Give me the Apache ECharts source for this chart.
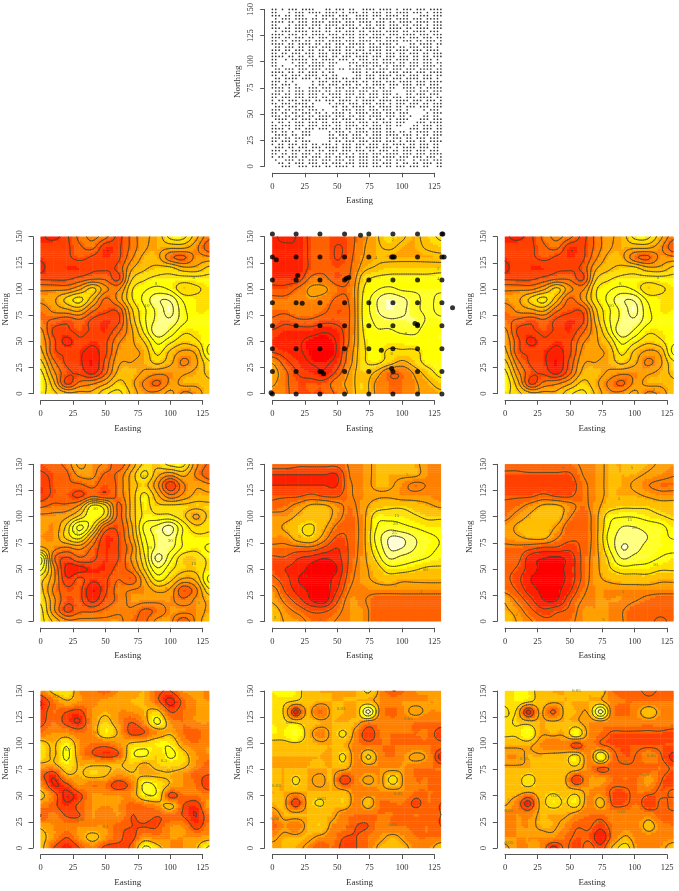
<!DOCTYPE html>
<html><head><meta charset="utf-8">
<style>html,body{margin:0;padding:0;background:#fff}#c{width:679px;height:891px}</style>
<script src="https://cdn.jsdelivr.net/npm/echarts@6/dist/echarts.min.js"></script>
</head><body><div id="c"></div>
<script>
// tick labels
const eastingTicks = [0,25,50,75,100,125];
const northingTicks = [0,25,50,75,100,125,150];
// raster axes: the easting / northing at which values were read
const eastA = [0,10,20,30,40,50,60,70,80,90,100,110,120,130];
const northA = [150,140,130,120,110,100,90,80,70,60,50,40,30,20,10,0];
const eastL = [0,9,18,27,37,46,55,65,74,83,93,102,111,120,130];
const northL = [150,140,130,120,109,98,87,76,65,54,43,32,21,10,0];
// colour bands, low to high
const heatColors = ["#FF0000","#FF2000","#FF4000","#FF6000","#FF8000","#FF9F00","#FFBF00","#FFDF00","#FFFF00","#FFFF2A","#FFFF80","#FFFFD5"];
// values, in colour-band units
const rasterA = [
[2,1.5,2.5,4,5,4,2.5,4,5.5,6,8,8,6,4],
[2,2.5,2.5,3.5,4,2,2.5,4,5.5,6,6,6,5,3],
[2,2.5,2.5,3,2.5,2,2.5,4.5,6,6,4,3.5,5,5],
[1.5,2.5,2,2,2.5,2.5,3,5.5,6.5,7,7,6,6,7],
[2.5,2.5,2.5,3,3.5,3.5,2.5,6.5,7.5,8,8,8,8,8],
[4.5,4.5,4.5,5.5,7,5,4.5,7.5,8.5,9,8.5,7,7.5,8],
[5,5.5,7,8,6,3.5,5,7.5,9,10.5,10.5,8.5,8,8],
[4,5,5.5,6,4,3,3,6.5,8.5,10,11,9,8,8],
[4,3.5,3,3.5,2.5,2,2.5,6,8.5,10,10.5,9,8.2,8.2],
[5,2.5,2.5,3,2.5,2,3.5,5.5,8,10.5,9.5,8,8,8.2],
[5.5,3,1.5,2.5,2,2.5,4.5,5.5,6.8,9,8,7,7.5,8.5],
[6,3,2.5,2,1.5,2.5,5,5.5,6,8,6.5,5.5,6,9],
[7,4,2.5,2,1,3,5.5,5.7,6,7,6,4.5,5.5,7.5],
[8,5,3,2.5,1.5,3.5,6,6.2,5.5,5,5,5.5,6,7],
[8.5,6,2.5,4,4.5,5.5,7,6,4.5,3.5,5,6,6,6.5],
[8,7,6,6,6,7.5,8,6.5,5,5,6,4.5,5,6.5]];
const rasterB = [
[1.5,1,1.5,3,3,3,3.2,4.8,6,7.5,6.5,6,7,8],
[1.5,1.5,1.5,3,3.5,2.5,3.2,5,6,6.5,6,6,6.5,7],
[1.5,1.5,1.5,3,3.5,2.5,3.4,5.2,6,6,6,6,6,6],
[1.5,1.5,1.5,3,3.5,3,3.6,5.8,6.5,7,7,7,7,7],
[2,2,2,4,4,3,3.8,7,8,8.2,8.2,8.2,8.2,8.5],
[3,3,4,5.5,5.5,4,4.2,7.6,9,9.5,9,9,9,9],
[4,4,4.5,5,4.5,3.5,4,7.9,10,11,10.5,9.5,9,9.5],
[4,4,4.5,4.5,4,3,3.8,8,10,11,10.5,9.5,9,9.5],
[3.5,3,3.5,3.5,3,3,3.8,7.9,9.5,10,10,10,9,9],
[2.5,2,2,2,1.5,2,3.9,7.7,9,9,9.5,9.5,8.5,9],
[2,1.5,1.5,0.8,0.5,1.5,4,7.5,8.2,8.2,8.2,8.5,8.5,9],
[2.5,2,1.5,0.8,0,1.5,4.5,7.4,8.2,7.5,7.5,7.5,8.2,8.2],
[5,3,2,1.2,1,2,4.8,7.4,8,7,6,7,8.2,8.2],
[6,4,2.5,2,1.5,3,5.5,7,6,4,4,5.5,7,8.2],
[5.5,4,3,3,3,4.5,5.7,7,5,4,4,5,6,7],
[4.5,4,3,3,3,4,5.5,7,5,4,4,5,5.5,6]];
const rasterC = rasterA;
const rasterD = [
[3,3.5,4,6,5,4.5,3,5,7,7,8,8,5,3.5],
[2.5,3,3.5,5,5,3.5,4,6,8,6,5,6,4.5,3],
[2,3,3.5,3.5,4,3,4,6,7,5,2,4.5,5.5,5],
[2,3,3,2.5,3.5,3,4,6,8,6,4,5,6,6],
[3.5,4,4,5,8,7,3.5,6,8,7,7,7,7,7],
[5,5,5.5,7,8.5,7,3.5,6,8,8,8,7,5.5,7],
[5.5,5,7,10,7.5,3.5,3,5.5,9,10,11,8.5,7,7.5],
[5,5,7,8,5,2,2.7,5.2,8.5,10,10.5,8.5,8,8],
[6,5,4.5,5,3.5,2,2.7,4.5,8,10,10,8.5,8,9],
[10,4,2.5,3.5,3,2,2.7,4.8,7.5,11,9,7,7,8],
[9,5,1.5,1.5,2,2,3.2,4.2,6.8,9.5,8,7,7,8],
[7,5,2,3,2,2.5,3.7,3,5.5,8,7,5.5,6,9],
[7,4.5,3,3,1,2.5,4.2,4.7,5,6,5.5,3,4.5,7.5],
[7.5,5,3,3,1.5,3,4,5,5,5,5,4,5,6],
[8,5,2.5,3.5,3.5,4,4.5,4.5,3.5,4,5,5,5,6],
[8,6.5,5,5,5,5,5,4,3.5,5,5,3,5,6.5]];
const rasterE = [
[4,4,3.5,3.5,3.5,3.5,4.6,5,6,6,6,6,5,4.5],
[2,2,2,2,2,2,4.5,5,6,6,6,6,5,4.5],
[2,2,2,2,2,2,4.2,5,6,6,5,4,4.5,4.5],
[3,3,3,3.5,3,3,4.2,5,5.5,5.5,5,5,5,4.5],
[3.5,4,5,6,6,5,4,5.2,6.5,7,7,6.5,6,5.5],
[5,5,6,6.5,6.5,5,3.8,5.2,8,8,8,7.5,7,7],
[5,6,7,7.5,6,4,3.5,5.2,8.5,9.5,9,8.5,8,8],
[5,5,6.5,7,5,3,3.5,5.2,9,11,11,10,9,8.5],
[4,4,4,4,3,2,3.5,5.2,8.5,11,11,10,9,8.5],
[3,3,2,1.5,1,1.5,3.5,5.2,7.5,10,9.5,9,8.5,8],
[3,2,1.5,0.7,0.7,1,3.7,5.2,6.5,8,8,7.5,7,7],
[3.5,2.5,1,0.5,0.7,1.5,4,5.2,6,6.5,6,6,6,6],
[5,3,1.5,0.8,0.5,2,4.5,4.8,5,5,5,5,5,5],
[5.5,4,2.5,1,0.5,3,5,4.6,3.5,3.5,3.5,3.5,3.5,3.5],
[6.5,5,4,3,3,4,5,5,3.5,3.5,3.5,3.5,3.5,3.5],
[7,5.5,5,4,4,4.5,5,5,3.5,3.5,3.5,3.5,3.5,4]];
const rasterF = [
[3.5,3.5,4,4,4,4,4.6,5,6,6,6.5,6,5.5,5],
[3,3,3,3,3,3,4.4,5,6,6,6,5.5,5,4.5],
[2.5,2.5,2.5,2.5,2.5,2.5,4,5,6,6,5.5,4.5,4,4],
[3,3,3,3.5,3,3,4,5,6,6,6,5.5,5,5],
[3.5,4,5,6,6,5,4,5.2,6.5,7,7,7,6.5,6.5],
[4,5,6,6.5,6.5,4.5,3.5,5.2,8,8.5,8.5,8,7.5,7],
[5,6,6.5,6.5,5.5,3.5,3.5,5.2,8.5,10,10,9.5,9,8],
[5,5.5,6,6,4.5,3.5,3.5,5.2,9,10.5,10.5,10,9,8.5],
[4,4,3.5,3,3,2.5,3.5,5.2,8.5,11,10.5,9.5,9,9],
[3.5,3.5,1.5,1,0.7,1.5,3.5,5.2,7.5,10,9.5,9,8.5,8],
[3.5,3,1.5,0.7,0.7,1.5,3.5,5.2,7,8,8,8,7.5,7.5],
[3.5,2.5,1,0.5,0.5,1.5,3.5,5.2,6,6.5,6.5,6.5,6,6],
[4,3,1.5,0.7,0.7,2,4,5,5,5,5,5,5,5],
[5.5,4,2.5,1,1,3,4.5,5,5,5,4.5,4,3.5,3.5],
[6,5,3.5,2.5,3,3.5,5,5,5,4.5,3.5,3.5,3.5,3.5],
[7,5.5,4.5,3.5,3.5,4,5,5,5,4.5,3.5,3.5,3,3.5]];
const rasterG = [
[4,7,8,5,4.5,3.5,5,5,6,3.5,3,5,5.5,4.5],
[1.5,4,6,5,4.5,5.5,5.5,6,6,3.5,1,3.5,5,5],
[2,4,3,2.5,5,6,5,5,6,7,3,4,5,5],
[2.5,4,2.5,1.5,5,7,5,3,5,9,5,4,5,5],
[4,5,5,4,5,8,6,2.5,3,5,6,4,3.5,5],
[7,6,8,5,4,4,5,6.5,7,8,8,5,4,5],
[8,6,9,5,3,2,3,8,9,7,9,7,5,5],
[6,6,8,6,6,6,6,7,6,7,7.5,7,5,3.5],
[3.5,2,6,6,7,6.5,5,6,6,6,6,5,3.5,3],
[5,1.5,2.5,5,4,4,2,4,9,8,6,5,4,2],
[7,4,1,2.5,5,5,5,5,8,8,2.5,4,4,4.5],
[4.5,3.5,2,3.5,5,5,5,3.5,4,5,7,3,2,5.5],
[3,4.5,3,3,5,4,5,3,3.5,3,3.5,3,1.5,4],
[6,5,4.5,5,5,5,3.5,3,3,3,5,5,2.5,4.5],
[7,5,3,5,7,5,3.5,2.5,5,4.5,5,5,5,5.5],
[7,3,1.5,3,4.5,2.5,2.5,3.5,9,7,5,5,6,9]];
const rasterH = [
[8,9,8,6.5,6,6,6,6,7.5,5,3,4,5,5,5],
[7.5,7.5,7,6.5,6,6,6,6,6,5,4.5,5,5,5,5],
[7.5,7,1.5,6,3.5,6,6,6,11.5,5,3.5,5,6,5,5],
[8,7.5,7,6.5,6,6,6,6,4.5,4.5,4.5,4.5,4,4,4],
[8,8,9.5,6.5,4.5,6,7.5,4.5,2,4,4,4,4,4,2],
[6.5,6.5,6.5,6.5,6,6,6,4.5,4,4,4,4,4,4,3.5],
[6,6,6,6,6,6,7.5,4.5,7.5,4.5,4,5,6,5,1.5],
[6,6,6,6,6,6,6,4.5,4.5,5,5,5,4,4,4],
[6.5,6,7.5,6,5,6,2,4.5,6,5,8,5,4,4,3],
[6,6,6,6,6,6,6,4.5,4.5,5,5,5,4,4,4],
[6,6,2,6,7.5,6,7,4.5,6.5,4,4,4,2.5,4,3],
[4.5,6,6,6,6,6,4.5,4,4,4,4,3.5,4,3.5,3],
[3.5,5,4,6,7,5,4.5,3,3,4.5,4,4,3.5,4,3],
[5,6,6,6,5,4.5,3,3,4,5,6,5,4,4,4],
[6,6,6,5,3,4,2.5,3,4,6,6.5,6,4.5,4.5,7]];
const rasterI = [
[8,8,8,6.5,6,6,6.5,6,6.5,4,3.5,3.5,3,3.5,3.5],
[7.5,8,7.5,6.5,6,6,6,6,6,4.5,4,4,4,4,4],
[7,7,1.5,6,3,6,6,6,11,4.5,3.5,5,7,5,4.5],
[7.5,7,6.5,6,6,6,6,5,5,4.5,4.5,4.5,4.5,4.5,4.5],
[7.5,7.5,9,6,6,6,8.5,5,4,3,3,3,3,3,2.5],
[6,6,6,5,4,4.5,2.5,4.5,3.5,3,3,3,3,3,3],
[5,5,6,6,6.5,6.5,8,4.5,9,4,3,3.5,5,3.5,1.5],
[6,6,6,6.5,6.5,6.5,6.5,4.5,3,3.5,3.5,3.5,3.5,4,3],
[6.5,6.5,8,6.5,6.5,6,2,5,5.5,4,4,4,5.5,3.5,2],
[6.5,6.5,6,6.5,7,6.5,6.5,5,4.5,3,3,4,4,3,3.5],
[6,4.5,1.5,6,8,7,8,4.5,6.5,3,3,4,2,3.5,3],
[4.5,5,4.5,6,6,6,5,4,4,4.5,4.5,4.5,4.5,3.5,3.5],
[4,5,5,6,6,5,3.5,3.5,2.5,4,4.5,4.5,6.5,4.5,4],
[5,5,5,5,5,4,3,3,1,4,6,4.5,4.5,4.5,4.5],
[6,5,5,5,1.5,3.5,2.5,4,2.5,6,8,5,5,5,7]];
// contour levels, in the same units
const levelsA = [1.8,2.7,3.7,4.7,5.7,6.7,7.7,8.7,9.7,10.7];
const levelsB = [1.3,2.6,3.7,5.2,6.3,7.7,9.2,10.2,11.2];
const levelsD = [1.8,2.7,3.7,4.7,5.7,6.7,7.7,8.7,9.7,10.7];
const levelsE = [1,2,3.2,4.4,5.7,7.3,8.6,10,11];
const levelsF = [1,2.2,3.2,4.4,5.7,7.3,8.6,10,11];
const levelsG = [1.5,3,6.3,8.5];
const levelsH = [2,3,5.5,7.2,9.5,11];
const levelsI = [2,3.3,5.7,7.2,9,10.5];
// contour labels: easting, northing, text
const labelsA = [[82,84,"10"],[118,111,"8"],[89,105,"8"],[2,90,"5"],[30,79,"7"],[40,108,"6"],[115,4,"5"],[60,130,"3"]];
const labelsB = [[93,147,"2"],[128,119,"2"],[128,110,"4"],[80,130,"4"],[103,57,"8"],[25,68,"4"],[48,62,"3"],[92,38,"6"]];
const labelsC = labelsA;
const labelsD = [[84,70,"20"],[100,77,"30"],[27,85,"15"],[42,108,"10"],[80,138,"10"],[30,127,"5"],[118,55,"15"],[97,31,"5"],[122,18,"5"],[40,15,"5"]];
const labelsE = [[94,85,"25"],[95,93,"20"],[96,101,"15"],[118,49,"10"],[95,34,"5"],[104,140,"5"],[115,28,"2"],[33,122,"5"],[34,114,"5"],[21,81,"5"],[51,69,"10"],[25,44,"15"],[37,2,"5"],[2,3,"2"]];
const labelsF = [[100,89,"20"],[96,97,"15"],[116,54,"10"],[91,28,"5"],[88,117,"5"],[127,125,"5"],[98,147,"5"],[45,147,"5"],[34,121,"5"],[15,80,"5"],[51,66,"10"],[36,11,"10"],[9,6,"2"],[76,2,"5"]];
const labelsG = [[21,94,"0.7"],[12,145,"0.2"],[28,133,"0.1"],[43,110,"0.1"],[50,89,"0.3"],[22,50,"0.1"],[83,50,"0.5"],[95,83,"0.3"],[100,74,"0.1"],[115,40,"0.1"],[30,27,"0.3"],[50,20,"0.1"]];
const labelsH = [[13,120,"0.1"],[3,60,"0.03"],[38,47,"0.03"],[53,133,"0.03"],[105,124,"0.05"],[97,52,"0.05"],[93,22,"0.05"],[60,20,"0.05"],[2,28,"0.05"]];
const labelsI = [[55,150,"0.05"],[108,70,"0.05"],[92,82,"0.05"],[90,35,"0.05"],[39,50,"0.05"],[72,25,"0.05"],[3,36,"0.05"],[15,85,"0.05"],[113,88,"0.05"],[3,5,"0.05"]];
// sampling sites of the middle panel
const siteEasting = [0,18.3,36.7,55.7,74.4,93,112,130.8];
const siteNorthing = [152.5,130.6,108.7,86.8,65,43,21.3,-0.3];
const extraSites = [[3,128],[19.5,113],[68,151.5],[92,130.6],[94,130.6],[131.5,152.5],[132.5,130.6],[57,110],[59,111],[23,86.5],[84,41.5],[92,24],[110,67],[112,66],[38,21],[39.5,19],[-1,1],[139,82]];
// the dense site map of the top panel: a row per northing, top row first
const denseEasting = [0,2.6,5.2,7.8,10.4,13,15.6,18.2,20.8,23.4,26,28.6,31.2,33.8,36.4,39,41.6,44.2,46.8,49.4,52,54.6,57.2,59.8,62.4,65,67.6,70.2,72.8,75.4,78,80.6,83.2,85.8,88.4,91,93.6,96.2,98.8,101.4,104,106.6,109.2,111.8,114.4,117,119.6,122.2,124.8,127.4,130];
const denseNorthing = [150,147,144,141,138,135,132,129,126,123,120,117,114,111,108,105,102,99,96,93,90,87,84,81,78,75,72,69,66,63,60,57,54,51,48,45,42,39,36,33,30,27,24,21,18,15,12,9,6,3,0];
const denseRows = [
"##.#.###.####...##.###.##..####.####.#.###.###.####",
"##...#.###.####.####.#.###.##.###.##.####.###.#.###",
"###.##.###...#.####.###..####.###.####.##...###.###",
".#.###.####.##.##.##.###.####.#.####.####.###.####.",
"####.##.###.####.####.###.####.###.##.####.####.###",
"##...#.####.###.####.####.#.##.###.###.##.###.#.###",
"###.##.###.##.#.##.###.###.####.##.####.##.####.###",
".#.###.####.###.##.##.###.##.####.####.##.####.###.",
"####.###.##.####.###.####.###.####.###.####.###.###",
"###.##.###.##.###.####.##.##.####.##.###.###.###.##",
"##.##.###.##.###.####.###.####.##.####.###.##.###.#",
"####.##.####.##.##.###.#####.##.####.#...##.####.##",
".##.###.##.###.###.##.###.##.####.###.##.###.###.#.",
"###.##.###.##.##.####.##.###.####.##.####.###.####.",
"##.##.###.###.###.###.####.###.##.###.##.###.##.###",
"####.##.##.##.###.##.###.####.###.###.###.##.##.###",
"##..#.#####.##.####.###.#.###.##.###.####.##.###.#.",
"##....#.###.####.###...###.#####.####.##.###.###.##",
"##.#...###.#####.##....#.####.###.#.####.###.####.#",
".##.###.###.###.###.##.####.###.###.###.###.####.##",
"####.##.##.###.#.##.....###.#.####.###.###.###.####",
"##.##.###.####.##.##.....##.###.####.###.###.###.##",
".##.####.###.##.####.##.###.###.###.###.####.###.#.",
"###.#.#.....#.###.###.####.##.###.###.####.###.####",
"##.###.#....#.##.###.###.##.#.####.###.###.###.###.",
"####.#.##..###.###.###.###.####.##.##..####.#.#####",
".###.#.###.####.##.##.###.###.##.###....###.###.###",
"###.##.###.###.#.####.###.##.###.###.#..##.###.###.",
"##.###.###.###.##.###.##.###.###.##.###.###.####.##",
"#.##.###.###.##.###.####.#.####.####.####.###.###.#",
"##.###.####.#....#.###.###.###.###.#.###.###.##.###",
".###.###.####.....##.##.####.##.####.##.###.###.###",
"###.##.###.###.#...#.###.###.###.###.##.#....#.###.",
"##.##.##.###.##.#.####.#.####.###.###.###.....#.###",
"###.##.###.##.####.###.##.##.####.###.##.#...##.##.",
".####.##.###.####.##.###.###.#.###.#.####...###.###",
"#.##.#.###.###.##.###.###.###.##.###.###...###.####",
"##.###.###.###.###.##.####.##.###.##.##...##.###.##",
"####.#.##.###.###.###.##.###.####.##.....###.###.##",
"##.##.#..###.....#.###.#.####.###.###.##.#.####.###",
".####.##.###.....##.###.###.#.###.####.###.#.##.###",
"###.##.###.......###.##.####.####.#.###.##.###.###.",
"##.###.#.###.....#.##.###.###.###.###.#.###.##.####",
"#.##.###.##.##.###.#.###.###.###.##.####.##.###.##.",
".###.##.###.###.####.###.##.####.###.#.####.###.##.",
"###.#.###.###.##.###.###.###.##.###.##.###.###.###.",
"##.##.##.###.##.###.###.#.###.###.####.###.###.####",
"#.##.###.##.###.##.##.###.###.##.####.###.###.###.#",
".#..###.##.###.###.###.##.###.###.##.###..#.###.###",
"..##.#.###.###.##.###.###.###.##.###.#.##.##.###.##",
"...###..###.###.##.####.#.###.###.##.###.###.##..##"];

const AXIS = "#555", TEXT = "#333", FONT = "Liberation Serif";
const colX = [40.7,272.4,505], rowY = [9.3,236.7,464.3,691];
const panels = [
 {c:0,r:1,v:rasterA,lv:levelsA,lb:labelsA,xs:eastA,ys:northA},
 {c:1,r:1,v:rasterB,lv:levelsB,lb:labelsB,xs:eastA,ys:northA},
 {c:2,r:1,v:rasterC,lv:levelsA,lb:labelsC,xs:eastA,ys:northA},
 {c:0,r:2,v:rasterD,lv:levelsD,lb:labelsD,xs:eastA,ys:northA},
 {c:1,r:2,v:rasterE,lv:levelsE,lb:labelsE,xs:eastA,ys:northA},
 {c:2,r:2,v:rasterF,lv:levelsF,lb:labelsF,xs:eastA,ys:northA},
 {c:0,r:3,v:rasterG,lv:levelsG,lb:labelsG,xs:eastA,ys:northA},
 {c:1,r:3,v:rasterH,lv:levelsH,lb:labelsH,xs:eastL,ys:northL},
 {c:2,r:3,v:rasterI,lv:levelsI,lb:labelsI,xs:eastL,ys:northL}
];
const SUB = 5;
function cr(a,b,c,d,t){return b+0.5*t*(c-a+t*(2*a-5*b+4*c-d+t*(3*(b-c)+d-a)));}
function surface(g,fx,fy){ // display surface through the read values
  const nx=g[0].length, ny=g.length;
  const ix=Math.min(Math.floor(fx),nx-2), iy=Math.min(Math.floor(fy),ny-2);
  const tx=fx-ix, ty=fy-iy, col=[];
  for(let j=-1;j<=2;j++){
    const row=g[Math.max(0,Math.min(ny-1,iy+j))];
    const at=k=>row[Math.max(0,Math.min(nx-1,k))];
    col.push(cr(at(ix-1),at(ix),at(ix+1),at(ix+2),tx));
  }
  return cr(col[0],col[1],col[2],col[3],ty);
}
function axes(i,c,r){
  return {
   grid:{left:colX[c],top:rowY[r],width:162,height:157,containLabel:false},
   xAxis:{gridIndex:i,type:"value",min:0,max:125,interval:25,position:"bottom",offset:6.5,
     name:"Easting",nameLocation:"middle",nameGap:23.5,
     nameTextStyle:{fontFamily:FONT,fontSize:9,color:TEXT,padding:[0,0,0,12]},
     axisLine:{show:true,onZero:false,lineStyle:{color:AXIS,width:1}},
     axisTick:{show:true,length:4.5,lineStyle:{color:AXIS,width:1}},
     axisLabel:{fontFamily:FONT,fontSize:8.5,color:TEXT,margin:9,showMinLabel:true,showMaxLabel:true,
       customValues:eastingTicks},
     splitLine:{show:false}},
   yAxis:{gridIndex:i,type:"value",min:0,max:150,interval:25,position:"left",offset:7.7,
     name:"Northing",nameLocation:"middle",nameGap:23,
     nameTextStyle:{fontFamily:FONT,fontSize:9,color:TEXT,padding:[0,0,0,12]},
     axisLine:{show:true,onZero:false,lineStyle:{color:AXIS,width:1}},
     axisTick:{show:true,length:4.5,lineStyle:{color:AXIS,width:1}},
     axisLabel:{fontFamily:FONT,fontSize:8.5,color:TEXT,margin:9,rotate:90,showMinLabel:true,showMaxLabel:true,
       customValues:northingTicks},
     splitLine:{show:false}}
  };
}
const grids=[],xAxes=[],yAxes=[],series=[];
function addAxes(c,r){const i=grids.length,a=axes(i,c,r);grids.push(a.grid);xAxes.push(a.xAxis);yAxes.push({...a.yAxis});return i;}
function base(i){return {xAxisIndex:i,yAxisIndex:i,silent:true,animation:false,clip:false,progressive:0};}

// top panel
{
 const i=addAxes(1,0), pts=[];
 denseRows.forEach((row,j)=>{for(let k=0;k<row.length;k++) if(row[k]==="#") pts.push([denseEasting[k],denseNorthing[j]]);});
 series.push({...base(i),type:"scatter",data:pts,symbol:"circle",symbolSize:1.7,itemStyle:{color:"#000"}});
}
panels.forEach((p,n)=>{
 const i=addAxes(p.c,p.r);
 const cells=[];
 for(let j=0;j<p.ys.length-1;j++)for(let k=0;k<p.xs.length-1;k++) cells.push([p.xs[k],p.ys[j],p.v[j][k],k,j]);
 const X=(k,t)=>p.xs[k]+(p.xs[k+1]-p.xs[k])*t, Y=(j,t)=>p.ys[j]+(p.ys[j+1]-p.ys[j])*t;
 const enc={x:0,y:1};
 series.push({...base(i),type:"custom",data:cells,encode:enc,
  renderItem(params,api){
   const k=api.value(3), j=api.value(4), ch=[];
   for(let b=0;b<SUB;b++){
    let start=0,prev=-1;
    for(let a=0;a<=SUB;a++){
     let band=-2;
     if(a<SUB){band=Math.max(0,Math.min(11,Math.floor(surface(p.v,k+(a+.5)/SUB,j+(b+.5)/SUB))));}
     if(band!==prev){
      if(prev>=0){
       const A=api.coord([X(k,start/SUB),Y(j,b/SUB)]), B=api.coord([X(k,a/SUB),Y(j,(b+1)/SUB)]);
       ch.push({type:"rect",shape:{x:A[0]-.2,y:A[1]-.2,width:B[0]-A[0]+.4,height:B[1]-A[1]+.4},style:{fill:heatColors[prev]},silent:true});
      }
      start=a;prev=band;
     }
    }
   }
   return {type:"group",children:ch};
  }});
 series.push({...base(i),type:"custom",data:cells,encode:enc,z:3,
  renderItem(params,api){
   const k=api.value(3), j=api.value(4), ch=[];
   const N=SUB+1, val=[];
   for(let b=0;b<=N;b++){val.push([]);for(let a=0;a<=N;a++)val[b].push(surface(p.v,k+a/N,j+b/N));}
   p.lv.forEach(L=>{
    for(let b=0;b<N;b++)for(let a=0;a<N;a++){
     const v0=val[b][a],v1=val[b][a+1],v2=val[b+1][a+1],v3=val[b+1][a],q=[];
     const cut=(u,w)=>(L-u)/(w-u);
     if((v0<L)!==(v1<L))q.push([a+cut(v0,v1),b]);
     if((v1<L)!==(v2<L))q.push([a+1,b+cut(v1,v2)]);
     if((v2<L)!==(v3<L))q.push([a+1-cut(v2,v3),b+1]);
     if((v3<L)!==(v0<L))q.push([a,b+1-cut(v3,v0)]);
     for(let s=0;s+1<q.length;s+=2){
      const P=api.coord([X(k,q[s][0]/N),Y(j,q[s][1]/N)]),Q=api.coord([X(k,q[s+1][0]/N),Y(j,q[s+1][1]/N)]);
      ch.push({type:"line",shape:{x1:P[0],y1:P[1],x2:Q[0],y2:Q[1]},style:{stroke:"#4a4228",lineWidth:.8,lineCap:"round"},silent:true});
     }
    }
   });
   return {type:"group",children:ch};
  }});
 series.push({...base(i),type:"custom",data:p.lb,encode:enc,z:4,
  renderItem(params,api){
   const P=api.coord([api.value(0),api.value(1)]);
   return {type:"text",x:P[0],y:P[1],silent:true,style:{text:p.lb[params.dataIndex][2],fill:"#6f7a25",font:"5px "+FONT,textAlign:"center",textVerticalAlign:"middle"}};
  }});
 if(p.c===1&&p.r===1){
  const sites=[];
  siteNorthing.forEach(y=>siteEasting.forEach(x=>sites.push([x,y])));
  extraSites.forEach(s=>sites.push(s));
  series.push({...base(i),type:"scatter",data:sites,symbol:"circle",symbolSize:5,z:5,itemStyle:{color:"#000"}});
 }
});
const chart=echarts.init(document.getElementById("c"),null,{renderer:"canvas"});
chart.setOption({animation:false,backgroundColor:"#fff",grid:grids,xAxis:xAxes,yAxis:yAxes,series:series,tooltip:{show:false}});
</script></body></html>
